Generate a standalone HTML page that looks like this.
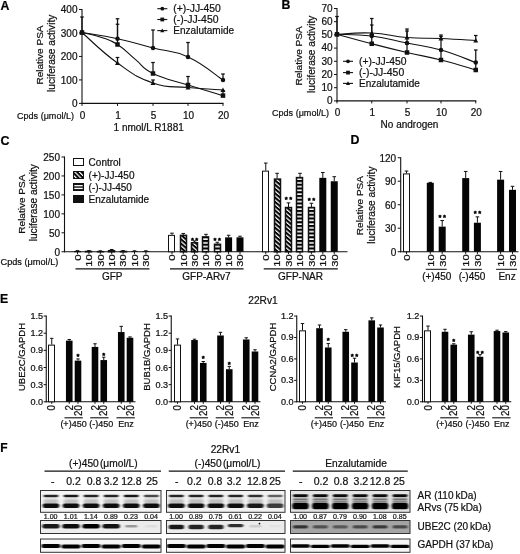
<!DOCTYPE html>
<html><head><meta charset="utf-8"><title>Figure</title>
<style>
html,body{margin:0;padding:0;background:#fff;}
svg{display:block;font-family:"Liberation Sans",sans-serif;}
text{stroke:#111;stroke-width:0.22px;}
</style></head>
<body>
<svg width="520" height="554" viewBox="0 0 520 554">
<defs>
<pattern id="hd" width="3.3" height="3.3" patternUnits="userSpaceOnUse" patternTransform="rotate(40)"><rect x="0" y="0" width="3.3" height="3.3" fill="#fff"/><rect x="0" y="0" width="3.3" height="2.05" fill="#000"/></pattern>
<pattern id="hh" width="3" height="3.75" patternUnits="userSpaceOnUse" patternTransform="translate(0 251.2)"><rect x="0" y="0" width="3" height="3.75" fill="#fff"/><rect x="0" y="0" width="3" height="2.15" fill="#000"/></pattern>
<pattern id="hd2" width="3.2" height="3.2" patternUnits="userSpaceOnUse" patternTransform="translate(73.9 0) rotate(45)"><rect x="0" y="0" width="3.2" height="3.2" fill="#fff"/><rect x="0" y="0" width="3.2" height="2.0" fill="#000"/></pattern>
<pattern id="hh2" width="3" height="2.6" patternUnits="userSpaceOnUse" patternTransform="translate(0 183.6)"><rect x="0" y="0" width="3" height="2.6" fill="#fff"/><rect x="0" y="0" width="3" height="1.3" fill="#111"/></pattern>
<filter id="b1" x="-20%" y="-60%" width="140%" height="220%"><feGaussianBlur stdDeviation="0.9 0.7"/></filter>
<filter id="b2" x="-20%" y="-80%" width="140%" height="260%"><feGaussianBlur stdDeviation="1.6 1.3"/></filter>
<clipPath id="cp0a"><rect x="40.5" y="490.5" width="120.5" height="21.8"/></clipPath>
<clipPath id="cp0b"><rect x="40.5" y="520.5" width="120.5" height="13"/></clipPath>
<clipPath id="cp0c"><rect x="40.5" y="539" width="120.5" height="13.3"/></clipPath>
<clipPath id="cp1a"><rect x="166.5" y="490.5" width="118.5" height="21.8"/></clipPath>
<clipPath id="cp1b"><rect x="166.5" y="520.5" width="118.5" height="13"/></clipPath>
<clipPath id="cp1c"><rect x="166.5" y="539" width="118.5" height="13.3"/></clipPath>
<clipPath id="cp2a"><rect x="290.5" y="490.5" width="119.5" height="21.8"/></clipPath>
<clipPath id="cp2b"><rect x="290.5" y="520.5" width="119.5" height="13"/></clipPath>
<clipPath id="cp2c"><rect x="290.5" y="539" width="119.5" height="13.3"/></clipPath>
</defs>
<rect x="0" y="0" width="520" height="554" fill="#fff"/>
<line x1="82" y1="9" x2="82" y2="103.9" stroke="#111" stroke-width="1.1"/>
<line x1="81.5" y1="103.4" x2="223.5" y2="103.4" stroke="#111" stroke-width="1.1"/>
<line x1="79" y1="9.48" x2="82" y2="9.48" stroke="#111" stroke-width="1"/>
<text x="77.5" y="13.28" font-size="10" text-anchor="end" fill="#111">400</text>
<line x1="79" y1="32.96" x2="82" y2="32.96" stroke="#111" stroke-width="1"/>
<text x="77.5" y="36.76" font-size="10" text-anchor="end" fill="#111">300</text>
<line x1="79" y1="56.44" x2="82" y2="56.44" stroke="#111" stroke-width="1"/>
<text x="77.5" y="60.24" font-size="10" text-anchor="end" fill="#111">200</text>
<line x1="79" y1="79.92" x2="82" y2="79.92" stroke="#111" stroke-width="1"/>
<text x="77.5" y="83.72" font-size="10" text-anchor="end" fill="#111">100</text>
<line x1="79" y1="103.4" x2="82" y2="103.4" stroke="#111" stroke-width="1"/>
<text x="77.5" y="107.2" font-size="10" text-anchor="end" fill="#111">0</text>
<line x1="82" y1="103.4" x2="82" y2="105.9" stroke="#111" stroke-width="1"/>
<text x="82.5" y="119" font-size="10" text-anchor="middle" fill="#111">0</text>
<line x1="117.5" y1="103.4" x2="117.5" y2="105.9" stroke="#111" stroke-width="1"/>
<text x="118" y="119" font-size="10" text-anchor="middle" fill="#111">1</text>
<line x1="153" y1="103.4" x2="153" y2="105.9" stroke="#111" stroke-width="1"/>
<text x="153.5" y="119" font-size="10" text-anchor="middle" fill="#111">5</text>
<line x1="188" y1="103.4" x2="188" y2="105.9" stroke="#111" stroke-width="1"/>
<text x="188.5" y="119" font-size="10" text-anchor="middle" fill="#111">10</text>
<line x1="223" y1="103.4" x2="223" y2="105.9" stroke="#111" stroke-width="1"/>
<text x="223.5" y="119" font-size="10" text-anchor="middle" fill="#111">20</text>
<text x="42.7" y="84.6" font-size="9.8" text-anchor="start" fill="#111" textLength="59.2" lengthAdjust="spacingAndGlyphs" transform="rotate(-90 42.7 84.6)">Relative PSA</text>
<text x="55.5" y="91.9" font-size="10.1" text-anchor="start" fill="#111" textLength="77.2" lengthAdjust="spacingAndGlyphs" transform="rotate(-90 55.5 91.9)">luciferase activity</text>
<text x="17" y="119" font-size="9.2" text-anchor="start" fill="#111" textLength="57" lengthAdjust="spacingAndGlyphs">Cpds (μmol/L)</text>
<text x="148.7" y="130.7" font-size="10" text-anchor="middle" fill="#111">1 nmol/L R1881</text>
<text x="0.6" y="9.5" font-size="12.3" text-anchor="start" fill="#000" font-weight="bold">A</text>
<path d="M82 32.5 C90.52 34 100.46 35.03 117.5 38.75 C134.54 42.47 136.08 43.62 153 48 C169.92 52.38 171.2 49.32 188 57 C204.8 64.68 214.6 74.48 223 80" fill="none" stroke="#111" stroke-width="1.1"/>
<line x1="82" y1="32.5" x2="82" y2="17" stroke="#111" stroke-width="1.25"/>
<line x1="80.2" y1="17" x2="83.8" y2="17" stroke="#111" stroke-width="1.25"/>
<line x1="117.5" y1="38.75" x2="117.5" y2="18.75" stroke="#111" stroke-width="1.25"/>
<line x1="115.7" y1="18.75" x2="119.3" y2="18.75" stroke="#111" stroke-width="1.25"/>
<line x1="153" y1="48" x2="153" y2="30" stroke="#111" stroke-width="1.25"/>
<line x1="151.2" y1="30" x2="154.8" y2="30" stroke="#111" stroke-width="1.25"/>
<line x1="188" y1="57" x2="188" y2="42.5" stroke="#111" stroke-width="1.25"/>
<line x1="186.2" y1="42.5" x2="189.8" y2="42.5" stroke="#111" stroke-width="1.25"/>
<line x1="223" y1="80" x2="223" y2="74" stroke="#111" stroke-width="1.25"/>
<line x1="221.2" y1="74" x2="224.8" y2="74" stroke="#111" stroke-width="1.25"/>
<circle cx="82" cy="32.5" r="2.25" fill="#111"/>
<circle cx="117.5" cy="38.75" r="2.25" fill="#111"/>
<circle cx="153" cy="48" r="2.25" fill="#111"/>
<circle cx="188" cy="57" r="2.25" fill="#111"/>
<circle cx="223" cy="80" r="2.25" fill="#111"/>
<path d="M82 32.5 C86.54 33.63 92.38 34.32 100.9 37.2 C109.42 40.08 109.17 39.12 117.5 44.5 C125.83 49.88 127.08 52.64 135.6 59.6 C144.12 66.56 140.42 67.4 153 73.5 C165.58 79.6 171.2 79.7 188 85 C204.8 90.3 214.6 93.06 223 95.6" fill="none" stroke="#111" stroke-width="1.1"/>
<line x1="117.5" y1="44.5" x2="117.5" y2="24.25" stroke="#111" stroke-width="1.25"/>
<line x1="115.7" y1="24.25" x2="119.3" y2="24.25" stroke="#111" stroke-width="1.25"/>
<line x1="153" y1="73.5" x2="153" y2="62.5" stroke="#111" stroke-width="1.25"/>
<line x1="151.2" y1="62.5" x2="154.8" y2="62.5" stroke="#111" stroke-width="1.25"/>
<line x1="188" y1="85" x2="188" y2="76.5" stroke="#111" stroke-width="1.25"/>
<line x1="186.2" y1="76.5" x2="189.8" y2="76.5" stroke="#111" stroke-width="1.25"/>
<line x1="223" y1="95.6" x2="223" y2="91" stroke="#111" stroke-width="1.25"/>
<line x1="221.2" y1="91" x2="224.8" y2="91" stroke="#111" stroke-width="1.25"/>
<rect x="79.75" y="30.25" width="4.5" height="4.5" fill="#111" stroke="none" stroke-width="1"/>
<rect x="115.25" y="42.25" width="4.5" height="4.5" fill="#111" stroke="none" stroke-width="1"/>
<rect x="150.75" y="71.25" width="4.5" height="4.5" fill="#111" stroke="none" stroke-width="1"/>
<rect x="185.75" y="82.75" width="4.5" height="4.5" fill="#111" stroke="none" stroke-width="1"/>
<rect x="220.75" y="93.35" width="4.5" height="4.5" fill="#111" stroke="none" stroke-width="1"/>
<path d="M82 32.5 C90.52 39.82 100.46 50.88 117.5 63 C134.54 75.12 136.08 77.12 153 83 C169.92 88.88 171.2 85.82 188 87.5 C204.8 89.18 214.6 89.4 223 90" fill="none" stroke="#111" stroke-width="1.1"/>
<line x1="117.5" y1="63" x2="117.5" y2="57.5" stroke="#111" stroke-width="1.25"/>
<line x1="115.7" y1="57.5" x2="119.3" y2="57.5" stroke="#111" stroke-width="1.25"/>
<line x1="153" y1="83" x2="153" y2="80" stroke="#111" stroke-width="1.25"/>
<line x1="151.2" y1="80" x2="154.8" y2="80" stroke="#111" stroke-width="1.25"/>
<line x1="188" y1="87.5" x2="188" y2="84.5" stroke="#111" stroke-width="1.25"/>
<line x1="186.2" y1="84.5" x2="189.8" y2="84.5" stroke="#111" stroke-width="1.25"/>
<path d="M82 29.91 L84.47 34.41 L79.53 34.41 Z" fill="#111"/>
<path d="M117.5 60.41 L119.97 64.91 L115.03 64.91 Z" fill="#111"/>
<path d="M153 80.41 L155.47 84.91 L150.53 84.91 Z" fill="#111"/>
<path d="M188 84.91 L190.47 89.41 L185.53 89.41 Z" fill="#111"/>
<path d="M223 87.41 L225.47 91.91 L220.53 91.91 Z" fill="#111"/>
<line x1="157.3" y1="8.7" x2="167.3" y2="8.7" stroke="#111" stroke-width="1.1"/>
<circle cx="162.3" cy="8.7" r="1.9" fill="#111"/>
<text x="173.3" y="12.3" font-size="10" text-anchor="start" fill="#111" textLength="47.6" lengthAdjust="spacingAndGlyphs">(+)-JJ-450</text>
<line x1="157.3" y1="19.5" x2="167.3" y2="19.5" stroke="#111" stroke-width="1.1"/>
<rect x="160.4" y="17.6" width="3.8" height="3.8" fill="#111" stroke="none" stroke-width="1"/>
<text x="173.3" y="23.1" font-size="10" text-anchor="start" fill="#111" textLength="45.2" lengthAdjust="spacingAndGlyphs">(-)-JJ-450</text>
<line x1="157.3" y1="30.6" x2="167.3" y2="30.6" stroke="#111" stroke-width="1.1"/>
<path d="M162.3 28.42 L164.39 32.22 L160.21 32.22 Z" fill="#111"/>
<text x="173.3" y="34.2" font-size="10" text-anchor="start" fill="#111" textLength="60.8" lengthAdjust="spacingAndGlyphs">Enzalutamide</text>
<line x1="337" y1="8" x2="337" y2="101.4" stroke="#111" stroke-width="1.1"/>
<line x1="336.5" y1="100.9" x2="476.25" y2="100.9" stroke="#111" stroke-width="1.1"/>
<line x1="334" y1="8.5" x2="337" y2="8.5" stroke="#111" stroke-width="1"/>
<text x="332.5" y="11.7" font-size="10" text-anchor="end" fill="#111">70</text>
<line x1="334" y1="21.7" x2="337" y2="21.7" stroke="#111" stroke-width="1"/>
<text x="332.5" y="24.9" font-size="10" text-anchor="end" fill="#111">60</text>
<line x1="334" y1="34.9" x2="337" y2="34.9" stroke="#111" stroke-width="1"/>
<text x="332.5" y="38.1" font-size="10" text-anchor="end" fill="#111">50</text>
<line x1="334" y1="48.1" x2="337" y2="48.1" stroke="#111" stroke-width="1"/>
<text x="332.5" y="51.3" font-size="10" text-anchor="end" fill="#111">40</text>
<line x1="334" y1="61.3" x2="337" y2="61.3" stroke="#111" stroke-width="1"/>
<text x="332.5" y="64.5" font-size="10" text-anchor="end" fill="#111">30</text>
<line x1="334" y1="74.5" x2="337" y2="74.5" stroke="#111" stroke-width="1"/>
<text x="332.5" y="77.7" font-size="10" text-anchor="end" fill="#111">20</text>
<line x1="334" y1="87.7" x2="337" y2="87.7" stroke="#111" stroke-width="1"/>
<text x="332.5" y="90.9" font-size="10" text-anchor="end" fill="#111">10</text>
<line x1="334" y1="100.9" x2="337" y2="100.9" stroke="#111" stroke-width="1"/>
<text x="332.5" y="104.1" font-size="10" text-anchor="end" fill="#111">0</text>
<line x1="337" y1="100.9" x2="337" y2="103.4" stroke="#111" stroke-width="1"/>
<text x="337.5" y="116" font-size="10" text-anchor="middle" fill="#111">0</text>
<line x1="371.75" y1="100.9" x2="371.75" y2="103.4" stroke="#111" stroke-width="1"/>
<text x="372.25" y="116" font-size="10" text-anchor="middle" fill="#111">1</text>
<line x1="407" y1="100.9" x2="407" y2="103.4" stroke="#111" stroke-width="1"/>
<text x="407.5" y="116" font-size="10" text-anchor="middle" fill="#111">5</text>
<line x1="441" y1="100.9" x2="441" y2="103.4" stroke="#111" stroke-width="1"/>
<text x="441.5" y="116" font-size="10" text-anchor="middle" fill="#111">10</text>
<line x1="475.75" y1="100.9" x2="475.75" y2="103.4" stroke="#111" stroke-width="1"/>
<text x="476.25" y="116" font-size="10" text-anchor="middle" fill="#111">20</text>
<text x="301.9" y="85.5" font-size="9.8" text-anchor="start" fill="#111" textLength="59.2" lengthAdjust="spacingAndGlyphs" transform="rotate(-90 301.9 85.5)">Relative PSA</text>
<text x="315.5" y="92.9" font-size="10.1" text-anchor="start" fill="#111" textLength="77.2" lengthAdjust="spacingAndGlyphs" transform="rotate(-90 315.5 92.9)">luciferase activity</text>
<text x="272" y="116" font-size="9.2" text-anchor="start" fill="#111" textLength="57" lengthAdjust="spacingAndGlyphs">Cpds (μmol/L)</text>
<text x="409.5" y="127.5" font-size="10" text-anchor="middle" fill="#111">No androgen</text>
<text x="281.6" y="8.9" font-size="12.3" text-anchor="start" fill="#000" font-weight="bold">B</text>
<path d="M337 34.3 C345.34 33.99 354.95 32.23 371.75 33 C388.55 33.77 390.38 36.18 407 37.5 C423.62 38.82 424.5 37.78 441 38.5 C457.5 39.22 467.41 40.02 475.75 40.5" fill="none" stroke="#111" stroke-width="1.1"/>
<line x1="337" y1="34.3" x2="337" y2="16.5" stroke="#111" stroke-width="1.25"/>
<line x1="335.2" y1="16.5" x2="338.8" y2="16.5" stroke="#111" stroke-width="1.25"/>
<line x1="371.75" y1="33" x2="371.75" y2="18.5" stroke="#111" stroke-width="1.25"/>
<line x1="369.95" y1="18.5" x2="373.55" y2="18.5" stroke="#111" stroke-width="1.25"/>
<line x1="407" y1="37.5" x2="407" y2="29" stroke="#111" stroke-width="1.25"/>
<line x1="405.2" y1="29" x2="408.8" y2="29" stroke="#111" stroke-width="1.25"/>
<line x1="441" y1="38.5" x2="441" y2="35" stroke="#111" stroke-width="1.25"/>
<line x1="439.2" y1="35" x2="442.8" y2="35" stroke="#111" stroke-width="1.25"/>
<line x1="475.75" y1="40.5" x2="475.75" y2="35.5" stroke="#111" stroke-width="1.25"/>
<line x1="473.95" y1="35.5" x2="477.55" y2="35.5" stroke="#111" stroke-width="1.25"/>
<path d="M337 31.71 L339.48 36.21 L334.52 36.21 Z" fill="#111"/>
<path d="M371.75 30.41 L374.23 34.91 L369.27 34.91 Z" fill="#111"/>
<path d="M407 34.91 L409.48 39.41 L404.52 39.41 Z" fill="#111"/>
<path d="M441 35.91 L443.48 40.41 L438.52 40.41 Z" fill="#111"/>
<path d="M475.75 37.91 L478.23 42.41 L473.27 42.41 Z" fill="#111"/>
<path d="M337 34.3 C345.34 34.71 354.95 33.91 371.75 36 C388.55 38.09 390.38 39.64 407 43 C423.62 46.36 424.5 45.32 441 50 C457.5 54.68 467.41 59.5 475.75 62.5" fill="none" stroke="#111" stroke-width="1.1"/>
<line x1="371.75" y1="36" x2="371.75" y2="25" stroke="#111" stroke-width="1.25"/>
<line x1="369.95" y1="25" x2="373.55" y2="25" stroke="#111" stroke-width="1.25"/>
<line x1="407" y1="43" x2="407" y2="31" stroke="#111" stroke-width="1.25"/>
<line x1="405.2" y1="31" x2="408.8" y2="31" stroke="#111" stroke-width="1.25"/>
<line x1="441" y1="50" x2="441" y2="36.5" stroke="#111" stroke-width="1.25"/>
<line x1="439.2" y1="36.5" x2="442.8" y2="36.5" stroke="#111" stroke-width="1.25"/>
<line x1="475.75" y1="62.5" x2="475.75" y2="50" stroke="#111" stroke-width="1.25"/>
<line x1="473.95" y1="50" x2="477.55" y2="50" stroke="#111" stroke-width="1.25"/>
<circle cx="337" cy="34.3" r="2.25" fill="#111"/>
<circle cx="371.75" cy="36" r="2.25" fill="#111"/>
<circle cx="407" cy="43" r="2.25" fill="#111"/>
<circle cx="441" cy="50" r="2.25" fill="#111"/>
<circle cx="475.75" cy="62.5" r="2.25" fill="#111"/>
<path d="M337 34.3 C345.34 36.57 354.95 39.38 371.75 43.75 C388.55 48.12 390.38 48.6 407 52.5 C423.62 56.4 424.5 55.8 441 60 C457.5 64.2 467.41 67.6 475.75 70" fill="none" stroke="#111" stroke-width="1.1"/>
<line x1="371.75" y1="43.75" x2="371.75" y2="36" stroke="#111" stroke-width="1.25"/>
<line x1="369.95" y1="36" x2="373.55" y2="36" stroke="#111" stroke-width="1.25"/>
<line x1="407" y1="52.5" x2="407" y2="44" stroke="#111" stroke-width="1.25"/>
<line x1="405.2" y1="44" x2="408.8" y2="44" stroke="#111" stroke-width="1.25"/>
<line x1="441" y1="60" x2="441" y2="50" stroke="#111" stroke-width="1.25"/>
<line x1="439.2" y1="50" x2="442.8" y2="50" stroke="#111" stroke-width="1.25"/>
<line x1="475.75" y1="70" x2="475.75" y2="62" stroke="#111" stroke-width="1.25"/>
<line x1="473.95" y1="62" x2="477.55" y2="62" stroke="#111" stroke-width="1.25"/>
<rect x="334.75" y="32.05" width="4.5" height="4.5" fill="#111" stroke="none" stroke-width="1"/>
<rect x="369.5" y="41.5" width="4.5" height="4.5" fill="#111" stroke="none" stroke-width="1"/>
<rect x="404.75" y="50.25" width="4.5" height="4.5" fill="#111" stroke="none" stroke-width="1"/>
<rect x="438.75" y="57.75" width="4.5" height="4.5" fill="#111" stroke="none" stroke-width="1"/>
<rect x="473.5" y="67.75" width="4.5" height="4.5" fill="#111" stroke="none" stroke-width="1"/>
<line x1="343" y1="61.3" x2="353" y2="61.3" stroke="#111" stroke-width="1.1"/>
<circle cx="348" cy="61.3" r="1.9" fill="#111"/>
<text x="359" y="64.9" font-size="10" text-anchor="start" fill="#111" textLength="47.6" lengthAdjust="spacingAndGlyphs">(+)-JJ-450</text>
<line x1="343" y1="72.6" x2="353" y2="72.6" stroke="#111" stroke-width="1.1"/>
<rect x="346.1" y="70.7" width="3.8" height="3.8" fill="#111" stroke="none" stroke-width="1"/>
<text x="359" y="76.2" font-size="10" text-anchor="start" fill="#111" textLength="45.2" lengthAdjust="spacingAndGlyphs">(-)-JJ-450</text>
<line x1="343" y1="83.4" x2="353" y2="83.4" stroke="#111" stroke-width="1.1"/>
<path d="M348 81.22 L350.09 85.02 L345.91 85.02 Z" fill="#111"/>
<text x="359" y="87" font-size="10" text-anchor="start" fill="#111" textLength="60.8" lengthAdjust="spacingAndGlyphs">Enzalutamide</text>
<text x="0.6" y="144.6" font-size="12.5" text-anchor="start" fill="#000" font-weight="bold">C</text>
<line x1="64.5" y1="156.5" x2="64.5" y2="252.25" stroke="#111" stroke-width="1.1"/>
<line x1="64" y1="251.75" x2="347.5" y2="251.75" stroke="#111" stroke-width="1.1"/>
<line x1="61.5" y1="251.75" x2="64.5" y2="251.75" stroke="#111" stroke-width="1"/>
<text x="60" y="255.55" font-size="10" text-anchor="end" fill="#111">0</text>
<line x1="61.5" y1="232.8" x2="64.5" y2="232.8" stroke="#111" stroke-width="1"/>
<text x="60" y="236.6" font-size="10" text-anchor="end" fill="#111">50</text>
<line x1="61.5" y1="213.85" x2="64.5" y2="213.85" stroke="#111" stroke-width="1"/>
<text x="60" y="217.65" font-size="10" text-anchor="end" fill="#111">100</text>
<line x1="61.5" y1="194.9" x2="64.5" y2="194.9" stroke="#111" stroke-width="1"/>
<text x="60" y="198.7" font-size="10" text-anchor="end" fill="#111">150</text>
<line x1="61.5" y1="175.95" x2="64.5" y2="175.95" stroke="#111" stroke-width="1"/>
<text x="60" y="179.75" font-size="10" text-anchor="end" fill="#111">200</text>
<line x1="61.5" y1="157" x2="64.5" y2="157" stroke="#111" stroke-width="1"/>
<text x="60" y="160.8" font-size="10" text-anchor="end" fill="#111">250</text>
<text x="24.7" y="233.7" font-size="9.8" text-anchor="start" fill="#111" textLength="59.2" lengthAdjust="spacingAndGlyphs" transform="rotate(-90 24.7 233.7)">Relative PSA</text>
<text x="37.5" y="241.3" font-size="10.1" text-anchor="start" fill="#111" textLength="77.2" lengthAdjust="spacingAndGlyphs" transform="rotate(-90 37.5 241.3)">luciferase activity</text>
<text x="0.5" y="264.5" font-size="9.2" text-anchor="start" fill="#111">Cpds (μmol/L)</text>
<rect x="73.5" y="158.5" width="10" height="7" fill="#fff" stroke="#111" stroke-width="1"/>
<text x="88.6" y="165.6" font-size="10" text-anchor="start" fill="#111">Control</text>
<rect x="73.5" y="171.5" width="10" height="7" fill="url(#hd2)" stroke="#111" stroke-width="1"/>
<text x="88.6" y="178.7" font-size="10" text-anchor="start" fill="#111">(+)-JJ-450</text>
<rect x="73.5" y="183.5" width="10" height="7" fill="#111" stroke="#111" stroke-width="1"/>
<line x1="74.3" y1="185.7" x2="82.7" y2="185.7" stroke="#fff" stroke-width="1.3"/>
<line x1="74.3" y1="188.4" x2="82.7" y2="188.4" stroke="#fff" stroke-width="1.3"/>
<text x="88.6" y="191" font-size="10" text-anchor="start" fill="#111">(-)-JJ-450</text>
<rect x="73.5" y="195.5" width="10" height="7" fill="#111" stroke="#111" stroke-width="1"/>
<text x="88.6" y="202.7" font-size="10" text-anchor="start" fill="#111">Enzalutamide</text>
<line x1="77.5" y1="250.99" x2="77.5" y2="250.61" stroke="#111" stroke-width="1"/>
<line x1="75.7" y1="250.61" x2="79.3" y2="250.61" stroke="#111" stroke-width="1"/>
<rect x="74.5" y="251.49" width="6" height="0.26" fill="#fff" stroke="#111" stroke-width="1"/>
<line x1="77.5" y1="251.75" x2="77.5" y2="253.95" stroke="#111" stroke-width="1"/>
<text x="80.9" y="260.7" font-size="9.6" text-anchor="start" fill="#111" textLength="6.4" lengthAdjust="spacingAndGlyphs" transform="rotate(-90 80.9 260.7)">0</text>
<line x1="88.9" y1="250.99" x2="88.9" y2="250.61" stroke="#111" stroke-width="1"/>
<line x1="87.1" y1="250.61" x2="90.7" y2="250.61" stroke="#111" stroke-width="1"/>
<rect x="85.5" y="251.49" width="6" height="0.26" fill="url(#hd)" stroke="#111" stroke-width="1.5"/>
<line x1="88.9" y1="251.75" x2="88.9" y2="253.95" stroke="#111" stroke-width="1"/>
<text x="92.3" y="266.7" font-size="9.6" text-anchor="start" fill="#111" textLength="12.4" lengthAdjust="spacingAndGlyphs" transform="rotate(-90 92.3 266.7)">10</text>
<line x1="100.3" y1="251.18" x2="100.3" y2="250.8" stroke="#111" stroke-width="1"/>
<line x1="98.5" y1="250.8" x2="102.1" y2="250.8" stroke="#111" stroke-width="1"/>
<rect x="97.5" y="251.68" width="6" height="0.07" fill="url(#hd)" stroke="#111" stroke-width="1.5"/>
<line x1="100.3" y1="251.75" x2="100.3" y2="253.95" stroke="#111" stroke-width="1"/>
<text x="103.7" y="266.7" font-size="9.6" text-anchor="start" fill="#111" textLength="12.4" lengthAdjust="spacingAndGlyphs" transform="rotate(-90 103.7 266.7)">30</text>
<line x1="111.7" y1="250.23" x2="111.7" y2="249.48" stroke="#111" stroke-width="1"/>
<line x1="109.9" y1="249.48" x2="113.5" y2="249.48" stroke="#111" stroke-width="1"/>
<rect x="108.5" y="250.73" width="6" height="1.02" fill="url(#hh)" stroke="#111" stroke-width="1.5"/>
<line x1="111.7" y1="251.75" x2="111.7" y2="253.95" stroke="#111" stroke-width="1"/>
<text x="115.1" y="266.7" font-size="9.6" text-anchor="start" fill="#111" textLength="12.4" lengthAdjust="spacingAndGlyphs" transform="rotate(-90 115.1 266.7)">10</text>
<line x1="123.1" y1="250.99" x2="123.1" y2="250.61" stroke="#111" stroke-width="1"/>
<line x1="121.3" y1="250.61" x2="124.9" y2="250.61" stroke="#111" stroke-width="1"/>
<rect x="120.5" y="251.49" width="6" height="0.26" fill="url(#hh)" stroke="#111" stroke-width="1.5"/>
<line x1="123.1" y1="251.75" x2="123.1" y2="253.95" stroke="#111" stroke-width="1"/>
<text x="126.5" y="266.7" font-size="9.6" text-anchor="start" fill="#111" textLength="12.4" lengthAdjust="spacingAndGlyphs" transform="rotate(-90 126.5 266.7)">30</text>
<line x1="134.5" y1="251.18" x2="134.5" y2="250.8" stroke="#111" stroke-width="1"/>
<line x1="132.7" y1="250.8" x2="136.3" y2="250.8" stroke="#111" stroke-width="1"/>
<rect x="131" y="251.18" width="7" height="0.57" fill="#050505" stroke="none" stroke-width="1"/>
<line x1="134.5" y1="251.75" x2="134.5" y2="253.95" stroke="#111" stroke-width="1"/>
<text x="137.9" y="266.7" font-size="9.6" text-anchor="start" fill="#111" textLength="12.4" lengthAdjust="spacingAndGlyphs" transform="rotate(-90 137.9 266.7)">10</text>
<line x1="145.9" y1="251.18" x2="145.9" y2="250.8" stroke="#111" stroke-width="1"/>
<line x1="144.1" y1="250.8" x2="147.7" y2="250.8" stroke="#111" stroke-width="1"/>
<rect x="142.4" y="251.18" width="7" height="0.57" fill="#050505" stroke="none" stroke-width="1"/>
<line x1="145.9" y1="251.75" x2="145.9" y2="253.95" stroke="#111" stroke-width="1"/>
<text x="149.3" y="266.7" font-size="9.6" text-anchor="start" fill="#111" textLength="12.4" lengthAdjust="spacingAndGlyphs" transform="rotate(-90 149.3 266.7)">30</text>
<line x1="75.5" y1="268.9" x2="149.5" y2="268.9" stroke="#111" stroke-width="1.1"/>
<text x="112.2" y="280.3" font-size="10" text-anchor="middle" fill="#111">GFP</text>
<line x1="172" y1="234.88" x2="172" y2="233.18" stroke="#111" stroke-width="1"/>
<line x1="170.2" y1="233.18" x2="173.8" y2="233.18" stroke="#111" stroke-width="1"/>
<rect x="168.5" y="235.38" width="6" height="16.37" fill="#fff" stroke="#111" stroke-width="1"/>
<line x1="172" y1="251.75" x2="172" y2="253.95" stroke="#111" stroke-width="1"/>
<text x="175.4" y="260.7" font-size="9.6" text-anchor="start" fill="#111" textLength="6.4" lengthAdjust="spacingAndGlyphs" transform="rotate(-90 175.4 260.7)">0</text>
<line x1="183.3" y1="234.88" x2="183.3" y2="233.44" stroke="#111" stroke-width="1"/>
<line x1="181.5" y1="233.44" x2="185.1" y2="233.44" stroke="#111" stroke-width="1"/>
<rect x="180.5" y="235.38" width="6" height="16.37" fill="url(#hd)" stroke="#111" stroke-width="1.5"/>
<line x1="183.3" y1="251.75" x2="183.3" y2="253.95" stroke="#111" stroke-width="1"/>
<text x="186.7" y="266.7" font-size="9.6" text-anchor="start" fill="#111" textLength="12.4" lengthAdjust="spacingAndGlyphs" transform="rotate(-90 186.7 266.7)">10</text>
<line x1="194.6" y1="242.28" x2="194.6" y2="240.95" stroke="#111" stroke-width="1"/>
<line x1="192.8" y1="240.95" x2="196.4" y2="240.95" stroke="#111" stroke-width="1"/>
<rect x="191.5" y="242.78" width="6" height="8.97" fill="url(#hd)" stroke="#111" stroke-width="1.5"/>
<line x1="194.6" y1="251.75" x2="194.6" y2="253.95" stroke="#111" stroke-width="1"/>
<text x="198" y="266.7" font-size="9.6" text-anchor="start" fill="#111" textLength="12.4" lengthAdjust="spacingAndGlyphs" transform="rotate(-90 198 266.7)">30</text>
<text x="195.35" y="242.65" font-size="7.6" text-anchor="middle" fill="#000" style="stroke:#000;stroke-width:0.55px" letter-spacing="1.5">**</text>
<line x1="206" y1="236.4" x2="206" y2="234.32" stroke="#111" stroke-width="1"/>
<line x1="204.2" y1="234.32" x2="207.8" y2="234.32" stroke="#111" stroke-width="1"/>
<rect x="202.5" y="236.9" width="6" height="14.85" fill="url(#hh)" stroke="#111" stroke-width="1.5"/>
<line x1="206" y1="251.75" x2="206" y2="253.95" stroke="#111" stroke-width="1"/>
<text x="209.4" y="266.7" font-size="9.6" text-anchor="start" fill="#111" textLength="12.4" lengthAdjust="spacingAndGlyphs" transform="rotate(-90 209.4 266.7)">10</text>
<line x1="217.3" y1="243.79" x2="217.3" y2="242.28" stroke="#111" stroke-width="1"/>
<line x1="215.5" y1="242.28" x2="219.1" y2="242.28" stroke="#111" stroke-width="1"/>
<rect x="214.5" y="244.29" width="6" height="7.46" fill="url(#hh)" stroke="#111" stroke-width="1.5"/>
<line x1="217.3" y1="251.75" x2="217.3" y2="253.95" stroke="#111" stroke-width="1"/>
<text x="220.7" y="266.7" font-size="9.6" text-anchor="start" fill="#111" textLength="12.4" lengthAdjust="spacingAndGlyphs" transform="rotate(-90 220.7 266.7)">30</text>
<text x="218.05" y="242.65" font-size="7.6" text-anchor="middle" fill="#000" style="stroke:#000;stroke-width:0.55px" letter-spacing="1.5">**</text>
<line x1="228.6" y1="237.35" x2="228.6" y2="235.26" stroke="#111" stroke-width="1"/>
<line x1="226.8" y1="235.26" x2="230.4" y2="235.26" stroke="#111" stroke-width="1"/>
<rect x="225.1" y="237.35" width="7" height="14.4" fill="#050505" stroke="none" stroke-width="1"/>
<line x1="228.6" y1="251.75" x2="228.6" y2="253.95" stroke="#111" stroke-width="1"/>
<text x="232" y="266.7" font-size="9.6" text-anchor="start" fill="#111" textLength="12.4" lengthAdjust="spacingAndGlyphs" transform="rotate(-90 232 266.7)">10</text>
<line x1="240" y1="237.35" x2="240" y2="236.21" stroke="#111" stroke-width="1"/>
<line x1="238.2" y1="236.21" x2="241.8" y2="236.21" stroke="#111" stroke-width="1"/>
<rect x="236.5" y="237.35" width="7" height="14.4" fill="#050505" stroke="none" stroke-width="1"/>
<line x1="240" y1="251.75" x2="240" y2="253.95" stroke="#111" stroke-width="1"/>
<text x="243.4" y="266.7" font-size="9.6" text-anchor="start" fill="#111" textLength="12.4" lengthAdjust="spacingAndGlyphs" transform="rotate(-90 243.4 266.7)">30</text>
<line x1="170" y1="268.9" x2="243.6" y2="268.9" stroke="#111" stroke-width="1.1"/>
<text x="206.5" y="280.3" font-size="10" text-anchor="middle" fill="#111">GFP-ARv7</text>
<line x1="265.75" y1="170.64" x2="265.75" y2="163.06" stroke="#111" stroke-width="1"/>
<line x1="263.95" y1="163.06" x2="267.55" y2="163.06" stroke="#111" stroke-width="1"/>
<rect x="262.5" y="171.14" width="6" height="80.61" fill="#fff" stroke="#111" stroke-width="1"/>
<line x1="265.75" y1="251.75" x2="265.75" y2="253.95" stroke="#111" stroke-width="1"/>
<text x="269.15" y="260.7" font-size="9.6" text-anchor="start" fill="#111" textLength="6.4" lengthAdjust="spacingAndGlyphs" transform="rotate(-90 269.15 260.7)">0</text>
<line x1="277.1" y1="178.6" x2="277.1" y2="173.3" stroke="#111" stroke-width="1"/>
<line x1="275.3" y1="173.3" x2="278.9" y2="173.3" stroke="#111" stroke-width="1"/>
<rect x="274.5" y="179.1" width="6" height="72.65" fill="url(#hd)" stroke="#111" stroke-width="1.5"/>
<line x1="277.1" y1="251.75" x2="277.1" y2="253.95" stroke="#111" stroke-width="1"/>
<text x="280.5" y="266.7" font-size="9.6" text-anchor="start" fill="#111" textLength="12.4" lengthAdjust="spacingAndGlyphs" transform="rotate(-90 280.5 266.7)">10</text>
<line x1="288.5" y1="207.03" x2="288.5" y2="202.86" stroke="#111" stroke-width="1"/>
<line x1="286.7" y1="202.86" x2="290.3" y2="202.86" stroke="#111" stroke-width="1"/>
<rect x="285.5" y="207.53" width="6" height="44.22" fill="url(#hd)" stroke="#111" stroke-width="1.5"/>
<line x1="288.5" y1="251.75" x2="288.5" y2="253.95" stroke="#111" stroke-width="1"/>
<text x="291.9" y="266.7" font-size="9.6" text-anchor="start" fill="#111" textLength="12.4" lengthAdjust="spacingAndGlyphs" transform="rotate(-90 291.9 266.7)">30</text>
<text x="289.25" y="201.85" font-size="7.6" text-anchor="middle" fill="#000" style="stroke:#000;stroke-width:0.55px" letter-spacing="1.5">**</text>
<line x1="300" y1="177.09" x2="300" y2="173.3" stroke="#111" stroke-width="1"/>
<line x1="298.2" y1="173.3" x2="301.8" y2="173.3" stroke="#111" stroke-width="1"/>
<rect x="296.5" y="177.59" width="6" height="74.16" fill="url(#hh)" stroke="#111" stroke-width="1.5"/>
<line x1="300" y1="251.75" x2="300" y2="253.95" stroke="#111" stroke-width="1"/>
<text x="303.4" y="266.7" font-size="9.6" text-anchor="start" fill="#111" textLength="12.4" lengthAdjust="spacingAndGlyphs" transform="rotate(-90 303.4 266.7)">10</text>
<line x1="311.4" y1="207.03" x2="311.4" y2="203.24" stroke="#111" stroke-width="1"/>
<line x1="309.6" y1="203.24" x2="313.2" y2="203.24" stroke="#111" stroke-width="1"/>
<rect x="308.5" y="207.53" width="6" height="44.22" fill="url(#hh)" stroke="#111" stroke-width="1.5"/>
<line x1="311.4" y1="251.75" x2="311.4" y2="253.95" stroke="#111" stroke-width="1"/>
<text x="314.8" y="266.7" font-size="9.6" text-anchor="start" fill="#111" textLength="12.4" lengthAdjust="spacingAndGlyphs" transform="rotate(-90 314.8 266.7)">30</text>
<text x="312.15" y="202.75" font-size="7.6" text-anchor="middle" fill="#000" style="stroke:#000;stroke-width:0.55px" letter-spacing="1.5">**</text>
<line x1="322.8" y1="177.84" x2="322.8" y2="172.54" stroke="#111" stroke-width="1"/>
<line x1="321" y1="172.54" x2="324.6" y2="172.54" stroke="#111" stroke-width="1"/>
<rect x="319.3" y="177.84" width="7" height="73.91" fill="#050505" stroke="none" stroke-width="1"/>
<line x1="322.8" y1="251.75" x2="322.8" y2="253.95" stroke="#111" stroke-width="1"/>
<text x="326.2" y="266.7" font-size="9.6" text-anchor="start" fill="#111" textLength="12.4" lengthAdjust="spacingAndGlyphs" transform="rotate(-90 326.2 266.7)">10</text>
<line x1="334.25" y1="181.26" x2="334.25" y2="176.71" stroke="#111" stroke-width="1"/>
<line x1="332.45" y1="176.71" x2="336.05" y2="176.71" stroke="#111" stroke-width="1"/>
<rect x="330.75" y="181.26" width="7" height="70.49" fill="#050505" stroke="none" stroke-width="1"/>
<line x1="334.25" y1="251.75" x2="334.25" y2="253.95" stroke="#111" stroke-width="1"/>
<text x="337.65" y="266.7" font-size="9.6" text-anchor="start" fill="#111" textLength="12.4" lengthAdjust="spacingAndGlyphs" transform="rotate(-90 337.65 266.7)">30</text>
<line x1="263.75" y1="268.9" x2="337.85" y2="268.9" stroke="#111" stroke-width="1.1"/>
<text x="300.5" y="280.3" font-size="10" text-anchor="middle" fill="#111">GFP-NAR</text>
<text x="350.6" y="144.3" font-size="12.4" text-anchor="start" fill="#000" font-weight="bold">D</text>
<line x1="400.7" y1="157.24" x2="400.7" y2="252.2" stroke="#111" stroke-width="1.1"/>
<line x1="400.2" y1="251.7" x2="518.5" y2="251.7" stroke="#111" stroke-width="1.1"/>
<line x1="397.7" y1="251.7" x2="400.7" y2="251.7" stroke="#111" stroke-width="1"/>
<text x="396.2" y="255.7" font-size="10" text-anchor="end" fill="#111">0</text>
<line x1="397.7" y1="228.21" x2="400.7" y2="228.21" stroke="#111" stroke-width="1"/>
<text x="396.2" y="232.21" font-size="10" text-anchor="end" fill="#111">30</text>
<line x1="397.7" y1="204.72" x2="400.7" y2="204.72" stroke="#111" stroke-width="1"/>
<text x="396.2" y="208.72" font-size="10" text-anchor="end" fill="#111">60</text>
<line x1="397.7" y1="181.23" x2="400.7" y2="181.23" stroke="#111" stroke-width="1"/>
<text x="396.2" y="185.23" font-size="10" text-anchor="end" fill="#111">90</text>
<line x1="397.7" y1="157.74" x2="400.7" y2="157.74" stroke="#111" stroke-width="1"/>
<text x="396.2" y="161.74" font-size="10" text-anchor="end" fill="#111">120</text>
<text x="362.6" y="235.2" font-size="9.8" text-anchor="start" fill="#111" textLength="59.2" lengthAdjust="spacingAndGlyphs" transform="rotate(-90 362.6 235.2)">Relative PSA</text>
<text x="375" y="243.7" font-size="10.1" text-anchor="start" fill="#111" textLength="77.2" lengthAdjust="spacingAndGlyphs" transform="rotate(-90 375 243.7)">luciferase activity</text>
<line x1="406.5" y1="173.4" x2="406.5" y2="171.05" stroke="#111" stroke-width="1"/>
<line x1="404.7" y1="171.05" x2="408.3" y2="171.05" stroke="#111" stroke-width="1"/>
<rect x="403.5" y="173.9" width="6" height="77.8" fill="#fff" stroke="#111" stroke-width="1"/>
<line x1="406.5" y1="251.7" x2="406.5" y2="253.9" stroke="#111" stroke-width="1"/>
<text x="409.9" y="260.7" font-size="9.6" text-anchor="start" fill="#111" textLength="6.4" lengthAdjust="spacingAndGlyphs" transform="rotate(-90 409.9 260.7)">0</text>
<line x1="430.3" y1="182.8" x2="430.3" y2="182.4" stroke="#111" stroke-width="1"/>
<line x1="428.5" y1="182.4" x2="432.1" y2="182.4" stroke="#111" stroke-width="1"/>
<rect x="426.8" y="182.8" width="7" height="68.9" fill="#050505" stroke="none" stroke-width="1"/>
<line x1="430.3" y1="251.7" x2="430.3" y2="253.9" stroke="#111" stroke-width="1"/>
<text x="433.7" y="266.7" font-size="9.6" text-anchor="start" fill="#111" textLength="12.4" lengthAdjust="spacingAndGlyphs" transform="rotate(-90 433.7 266.7)">10</text>
<line x1="442.2" y1="226.64" x2="442.2" y2="220.54" stroke="#111" stroke-width="1"/>
<line x1="440.4" y1="220.54" x2="444" y2="220.54" stroke="#111" stroke-width="1"/>
<rect x="438.7" y="226.64" width="7" height="25.06" fill="#050505" stroke="none" stroke-width="1"/>
<line x1="442.2" y1="251.7" x2="442.2" y2="253.9" stroke="#111" stroke-width="1"/>
<text x="445.6" y="266.7" font-size="9.6" text-anchor="start" fill="#111" textLength="12.4" lengthAdjust="spacingAndGlyphs" transform="rotate(-90 445.6 266.7)">30</text>
<text x="442.95" y="219.55" font-size="7.6" text-anchor="middle" fill="#000" style="stroke:#000;stroke-width:0.55px" letter-spacing="1.5">**</text>
<line x1="465.7" y1="178.1" x2="465.7" y2="171.44" stroke="#111" stroke-width="1"/>
<line x1="463.9" y1="171.44" x2="467.5" y2="171.44" stroke="#111" stroke-width="1"/>
<rect x="462.2" y="178.1" width="7" height="73.6" fill="#050505" stroke="none" stroke-width="1"/>
<line x1="465.7" y1="251.7" x2="465.7" y2="253.9" stroke="#111" stroke-width="1"/>
<text x="469.1" y="266.7" font-size="9.6" text-anchor="start" fill="#111" textLength="12.4" lengthAdjust="spacingAndGlyphs" transform="rotate(-90 469.1 266.7)">10</text>
<line x1="477.4" y1="222.73" x2="477.4" y2="216.86" stroke="#111" stroke-width="1"/>
<line x1="475.6" y1="216.86" x2="479.2" y2="216.86" stroke="#111" stroke-width="1"/>
<rect x="473.9" y="222.73" width="7" height="28.97" fill="#050505" stroke="none" stroke-width="1"/>
<line x1="477.4" y1="251.7" x2="477.4" y2="253.9" stroke="#111" stroke-width="1"/>
<text x="480.8" y="266.7" font-size="9.6" text-anchor="start" fill="#111" textLength="12.4" lengthAdjust="spacingAndGlyphs" transform="rotate(-90 480.8 266.7)">30</text>
<text x="478.15" y="216.05" font-size="7.6" text-anchor="middle" fill="#000" style="stroke:#000;stroke-width:0.55px" letter-spacing="1.5">**</text>
<line x1="500.6" y1="179.66" x2="500.6" y2="171.44" stroke="#111" stroke-width="1"/>
<line x1="498.8" y1="171.44" x2="502.4" y2="171.44" stroke="#111" stroke-width="1"/>
<rect x="497.1" y="179.66" width="7" height="72.04" fill="#050505" stroke="none" stroke-width="1"/>
<line x1="500.6" y1="251.7" x2="500.6" y2="253.9" stroke="#111" stroke-width="1"/>
<text x="504" y="266.7" font-size="9.6" text-anchor="start" fill="#111" textLength="12.4" lengthAdjust="spacingAndGlyphs" transform="rotate(-90 504 266.7)">10</text>
<line x1="512.5" y1="189.84" x2="512.5" y2="186.32" stroke="#111" stroke-width="1"/>
<line x1="510.7" y1="186.32" x2="514.3" y2="186.32" stroke="#111" stroke-width="1"/>
<rect x="509" y="189.84" width="7" height="61.86" fill="#050505" stroke="none" stroke-width="1"/>
<line x1="512.5" y1="251.7" x2="512.5" y2="253.9" stroke="#111" stroke-width="1"/>
<text x="515.9" y="266.7" font-size="9.6" text-anchor="start" fill="#111" textLength="12.4" lengthAdjust="spacingAndGlyphs" transform="rotate(-90 515.9 266.7)">30</text>
<line x1="425.8" y1="269.3" x2="446.7" y2="269.3" stroke="#111" stroke-width="1"/>
<text x="436.75" y="279.8" font-size="10" text-anchor="middle" fill="#111">(+)450</text>
<line x1="461.2" y1="269.3" x2="481.9" y2="269.3" stroke="#111" stroke-width="1"/>
<text x="472.05" y="279.8" font-size="10" text-anchor="middle" fill="#111">(-)450</text>
<line x1="496.1" y1="269.3" x2="517" y2="269.3" stroke="#111" stroke-width="1"/>
<text x="507.05" y="279.8" font-size="10" text-anchor="middle" fill="#111">Enz</text>
<text x="0.1" y="302.9" font-size="12.3" text-anchor="start" fill="#000" font-weight="bold">E</text>
<text x="263" y="304.3" font-size="10.2" text-anchor="middle" fill="#111">22Rv1</text>
<line x1="46.25" y1="315.55" x2="46.25" y2="402.3" stroke="#111" stroke-width="1.1"/>
<line x1="45.75" y1="401.8" x2="135.5" y2="401.8" stroke="#111" stroke-width="1.1"/>
<line x1="43.65" y1="401.8" x2="46.25" y2="401.8" stroke="#111" stroke-width="1"/>
<text x="43.05" y="404.8" font-size="9.1" text-anchor="end" fill="#111">0.0</text>
<line x1="43.65" y1="384.65" x2="46.25" y2="384.65" stroke="#111" stroke-width="1"/>
<text x="43.05" y="387.65" font-size="9.1" text-anchor="end" fill="#111">0.3</text>
<line x1="43.65" y1="367.5" x2="46.25" y2="367.5" stroke="#111" stroke-width="1"/>
<text x="43.05" y="370.5" font-size="9.1" text-anchor="end" fill="#111">0.6</text>
<line x1="43.65" y1="350.35" x2="46.25" y2="350.35" stroke="#111" stroke-width="1"/>
<text x="43.05" y="353.35" font-size="9.1" text-anchor="end" fill="#111">0.9</text>
<line x1="43.65" y1="333.2" x2="46.25" y2="333.2" stroke="#111" stroke-width="1"/>
<text x="43.05" y="336.2" font-size="9.1" text-anchor="end" fill="#111">1.2</text>
<line x1="43.65" y1="316.05" x2="46.25" y2="316.05" stroke="#111" stroke-width="1"/>
<text x="43.05" y="319.05" font-size="9.1" text-anchor="end" fill="#111">1.5</text>
<text x="25.2" y="357" font-size="9.5" text-anchor="middle" fill="#111" transform="rotate(-90 25.2 357)">UBE2C/GAPDH</text>
<line x1="51.75" y1="344.63" x2="51.75" y2="338.34" stroke="#111" stroke-width="1"/>
<line x1="50.05" y1="338.34" x2="53.45" y2="338.34" stroke="#111" stroke-width="1"/>
<rect x="48.5" y="345.13" width="6" height="56.67" fill="#fff" stroke="#111" stroke-width="1"/>
<line x1="51.75" y1="401.8" x2="51.75" y2="403.8" stroke="#111" stroke-width="1"/>
<text x="55.35" y="410.6" font-size="10" text-anchor="start" fill="#111" textLength="5.4" lengthAdjust="spacingAndGlyphs" transform="rotate(-90 55.35 410.6)">0</text>
<line x1="69.25" y1="340.63" x2="69.25" y2="339.48" stroke="#111" stroke-width="1"/>
<line x1="67.55" y1="339.48" x2="70.95" y2="339.48" stroke="#111" stroke-width="1"/>
<rect x="65.95" y="340.63" width="6.6" height="61.17" fill="#050505" stroke="none" stroke-width="1"/>
<line x1="69.25" y1="401.8" x2="69.25" y2="403.8" stroke="#111" stroke-width="1"/>
<text x="72.85" y="410.6" font-size="10" text-anchor="start" fill="#111" textLength="5.4" lengthAdjust="spacingAndGlyphs" transform="rotate(-90 72.85 410.6)">2</text>
<line x1="78" y1="360.64" x2="78" y2="358.92" stroke="#111" stroke-width="1"/>
<line x1="76.3" y1="358.92" x2="79.7" y2="358.92" stroke="#111" stroke-width="1"/>
<rect x="74.7" y="360.64" width="6.6" height="41.16" fill="#050505" stroke="none" stroke-width="1"/>
<line x1="78" y1="401.8" x2="78" y2="403.8" stroke="#111" stroke-width="1"/>
<text x="81.6" y="416" font-size="10" text-anchor="start" fill="#111" textLength="10.8" lengthAdjust="spacingAndGlyphs" transform="rotate(-90 81.6 416)">20</text>
<text x="78" y="359.15" font-size="7.6" text-anchor="middle" fill="#000" style="stroke:#000;stroke-width:0.55px">*</text>
<line x1="95" y1="346.92" x2="95" y2="343.77" stroke="#111" stroke-width="1"/>
<line x1="93.3" y1="343.77" x2="96.7" y2="343.77" stroke="#111" stroke-width="1"/>
<rect x="91.7" y="346.92" width="6.6" height="54.88" fill="#050505" stroke="none" stroke-width="1"/>
<line x1="95" y1="401.8" x2="95" y2="403.8" stroke="#111" stroke-width="1"/>
<text x="98.6" y="410.6" font-size="10" text-anchor="start" fill="#111" textLength="5.4" lengthAdjust="spacingAndGlyphs" transform="rotate(-90 98.6 410.6)">2</text>
<line x1="103.75" y1="360.07" x2="103.75" y2="357.21" stroke="#111" stroke-width="1"/>
<line x1="102.05" y1="357.21" x2="105.45" y2="357.21" stroke="#111" stroke-width="1"/>
<rect x="100.45" y="360.07" width="6.6" height="41.73" fill="#050505" stroke="none" stroke-width="1"/>
<line x1="103.75" y1="401.8" x2="103.75" y2="403.8" stroke="#111" stroke-width="1"/>
<text x="107.35" y="416" font-size="10" text-anchor="start" fill="#111" textLength="10.8" lengthAdjust="spacingAndGlyphs" transform="rotate(-90 107.35 416)">20</text>
<text x="103.75" y="358.15" font-size="7.6" text-anchor="middle" fill="#000" style="stroke:#000;stroke-width:0.55px">*</text>
<line x1="121.25" y1="332.05" x2="121.25" y2="326.34" stroke="#111" stroke-width="1"/>
<line x1="119.55" y1="326.34" x2="122.95" y2="326.34" stroke="#111" stroke-width="1"/>
<rect x="117.95" y="332.05" width="6.6" height="69.75" fill="#050505" stroke="none" stroke-width="1"/>
<line x1="121.25" y1="401.8" x2="121.25" y2="403.8" stroke="#111" stroke-width="1"/>
<text x="124.85" y="410.6" font-size="10" text-anchor="start" fill="#111" textLength="5.4" lengthAdjust="spacingAndGlyphs" transform="rotate(-90 124.85 410.6)">2</text>
<line x1="130" y1="337.77" x2="130" y2="336.91" stroke="#111" stroke-width="1"/>
<line x1="128.3" y1="336.91" x2="131.7" y2="336.91" stroke="#111" stroke-width="1"/>
<rect x="126.7" y="337.77" width="6.6" height="64.03" fill="#050505" stroke="none" stroke-width="1"/>
<line x1="130" y1="401.8" x2="130" y2="403.8" stroke="#111" stroke-width="1"/>
<text x="133.6" y="416" font-size="10" text-anchor="start" fill="#111" textLength="10.8" lengthAdjust="spacingAndGlyphs" transform="rotate(-90 133.6 416)">20</text>
<line x1="64.45" y1="417.8" x2="82.8" y2="417.8" stroke="#111" stroke-width="1.1"/>
<text x="73.53" y="426.6" font-size="9" text-anchor="middle" fill="#111">(+)450</text>
<line x1="90.2" y1="417.8" x2="108.55" y2="417.8" stroke="#111" stroke-width="1.1"/>
<text x="101.28" y="426.6" font-size="9" text-anchor="middle" fill="#111">(-)450</text>
<line x1="116.45" y1="417.8" x2="134.8" y2="417.8" stroke="#111" stroke-width="1.1"/>
<text x="126.03" y="426.6" font-size="9" text-anchor="middle" fill="#111">Enz</text>
<line x1="171.25" y1="315.55" x2="171.25" y2="402.3" stroke="#111" stroke-width="1.1"/>
<line x1="170.75" y1="401.8" x2="260.5" y2="401.8" stroke="#111" stroke-width="1.1"/>
<line x1="168.65" y1="401.8" x2="171.25" y2="401.8" stroke="#111" stroke-width="1"/>
<text x="168.05" y="404.8" font-size="9.1" text-anchor="end" fill="#111">0.0</text>
<line x1="168.65" y1="384.65" x2="171.25" y2="384.65" stroke="#111" stroke-width="1"/>
<text x="168.05" y="387.65" font-size="9.1" text-anchor="end" fill="#111">0.3</text>
<line x1="168.65" y1="367.5" x2="171.25" y2="367.5" stroke="#111" stroke-width="1"/>
<text x="168.05" y="370.5" font-size="9.1" text-anchor="end" fill="#111">0.6</text>
<line x1="168.65" y1="350.35" x2="171.25" y2="350.35" stroke="#111" stroke-width="1"/>
<text x="168.05" y="353.35" font-size="9.1" text-anchor="end" fill="#111">0.9</text>
<line x1="168.65" y1="333.2" x2="171.25" y2="333.2" stroke="#111" stroke-width="1"/>
<text x="168.05" y="336.2" font-size="9.1" text-anchor="end" fill="#111">1.2</text>
<line x1="168.65" y1="316.05" x2="171.25" y2="316.05" stroke="#111" stroke-width="1"/>
<text x="168.05" y="319.05" font-size="9.1" text-anchor="end" fill="#111">1.5</text>
<text x="150" y="357" font-size="9.5" text-anchor="middle" fill="#111" transform="rotate(-90 150 357)">BUB1B/GAPDH</text>
<line x1="177.5" y1="344.63" x2="177.5" y2="338.91" stroke="#111" stroke-width="1"/>
<line x1="175.8" y1="338.91" x2="179.2" y2="338.91" stroke="#111" stroke-width="1"/>
<rect x="174.5" y="345.13" width="6" height="56.67" fill="#fff" stroke="#111" stroke-width="1"/>
<line x1="177.5" y1="401.8" x2="177.5" y2="403.8" stroke="#111" stroke-width="1"/>
<text x="181.1" y="410.6" font-size="10" text-anchor="start" fill="#111" textLength="5.4" lengthAdjust="spacingAndGlyphs" transform="rotate(-90 181.1 410.6)">0</text>
<line x1="194.5" y1="340.06" x2="194.5" y2="339.2" stroke="#111" stroke-width="1"/>
<line x1="192.8" y1="339.2" x2="196.2" y2="339.2" stroke="#111" stroke-width="1"/>
<rect x="191.2" y="340.06" width="6.6" height="61.74" fill="#050505" stroke="none" stroke-width="1"/>
<line x1="194.5" y1="401.8" x2="194.5" y2="403.8" stroke="#111" stroke-width="1"/>
<text x="198.1" y="410.6" font-size="10" text-anchor="start" fill="#111" textLength="5.4" lengthAdjust="spacingAndGlyphs" transform="rotate(-90 198.1 410.6)">2</text>
<line x1="203.25" y1="362.92" x2="203.25" y2="361.5" stroke="#111" stroke-width="1"/>
<line x1="201.55" y1="361.5" x2="204.95" y2="361.5" stroke="#111" stroke-width="1"/>
<rect x="199.95" y="362.92" width="6.6" height="38.88" fill="#050505" stroke="none" stroke-width="1"/>
<line x1="203.25" y1="401.8" x2="203.25" y2="403.8" stroke="#111" stroke-width="1"/>
<text x="206.85" y="416" font-size="10" text-anchor="start" fill="#111" textLength="10.8" lengthAdjust="spacingAndGlyphs" transform="rotate(-90 206.85 416)">20</text>
<text x="203.25" y="360.65" font-size="7.6" text-anchor="middle" fill="#000" style="stroke:#000;stroke-width:0.55px">*</text>
<line x1="220.5" y1="335.48" x2="220.5" y2="332.34" stroke="#111" stroke-width="1"/>
<line x1="218.8" y1="332.34" x2="222.2" y2="332.34" stroke="#111" stroke-width="1"/>
<rect x="217.2" y="335.48" width="6.6" height="66.32" fill="#050505" stroke="none" stroke-width="1"/>
<line x1="220.5" y1="401.8" x2="220.5" y2="403.8" stroke="#111" stroke-width="1"/>
<text x="224.1" y="410.6" font-size="10" text-anchor="start" fill="#111" textLength="5.4" lengthAdjust="spacingAndGlyphs" transform="rotate(-90 224.1 410.6)">2</text>
<line x1="229.25" y1="369.21" x2="229.25" y2="366.35" stroke="#111" stroke-width="1"/>
<line x1="227.55" y1="366.35" x2="230.95" y2="366.35" stroke="#111" stroke-width="1"/>
<rect x="225.95" y="369.21" width="6.6" height="32.59" fill="#050505" stroke="none" stroke-width="1"/>
<line x1="229.25" y1="401.8" x2="229.25" y2="403.8" stroke="#111" stroke-width="1"/>
<text x="232.85" y="416" font-size="10" text-anchor="start" fill="#111" textLength="10.8" lengthAdjust="spacingAndGlyphs" transform="rotate(-90 232.85 416)">20</text>
<text x="229.25" y="366.65" font-size="7.6" text-anchor="middle" fill="#000" style="stroke:#000;stroke-width:0.55px">*</text>
<line x1="246.25" y1="339.48" x2="246.25" y2="337.77" stroke="#111" stroke-width="1"/>
<line x1="244.55" y1="337.77" x2="247.95" y2="337.77" stroke="#111" stroke-width="1"/>
<rect x="242.95" y="339.48" width="6.6" height="62.32" fill="#050505" stroke="none" stroke-width="1"/>
<line x1="246.25" y1="401.8" x2="246.25" y2="403.8" stroke="#111" stroke-width="1"/>
<text x="249.85" y="410.6" font-size="10" text-anchor="start" fill="#111" textLength="5.4" lengthAdjust="spacingAndGlyphs" transform="rotate(-90 249.85 410.6)">2</text>
<line x1="255" y1="351.49" x2="255" y2="349.78" stroke="#111" stroke-width="1"/>
<line x1="253.3" y1="349.78" x2="256.7" y2="349.78" stroke="#111" stroke-width="1"/>
<rect x="251.7" y="351.49" width="6.6" height="50.31" fill="#050505" stroke="none" stroke-width="1"/>
<line x1="255" y1="401.8" x2="255" y2="403.8" stroke="#111" stroke-width="1"/>
<text x="258.6" y="416" font-size="10" text-anchor="start" fill="#111" textLength="10.8" lengthAdjust="spacingAndGlyphs" transform="rotate(-90 258.6 416)">20</text>
<line x1="189.7" y1="417.8" x2="208.05" y2="417.8" stroke="#111" stroke-width="1.1"/>
<text x="198.77" y="426.6" font-size="9" text-anchor="middle" fill="#111">(+)450</text>
<line x1="215.7" y1="417.8" x2="234.05" y2="417.8" stroke="#111" stroke-width="1.1"/>
<text x="226.77" y="426.6" font-size="9" text-anchor="middle" fill="#111">(-)450</text>
<line x1="241.45" y1="417.8" x2="259.8" y2="417.8" stroke="#111" stroke-width="1.1"/>
<text x="251.02" y="426.6" font-size="9" text-anchor="middle" fill="#111">Enz</text>
<line x1="296.75" y1="315.55" x2="296.75" y2="402.3" stroke="#111" stroke-width="1.1"/>
<line x1="296.25" y1="401.8" x2="386" y2="401.8" stroke="#111" stroke-width="1.1"/>
<line x1="294.15" y1="401.8" x2="296.75" y2="401.8" stroke="#111" stroke-width="1"/>
<text x="293.55" y="404.8" font-size="9.1" text-anchor="end" fill="#111">0.0</text>
<line x1="294.15" y1="380.36" x2="296.75" y2="380.36" stroke="#111" stroke-width="1"/>
<text x="293.55" y="383.36" font-size="9.1" text-anchor="end" fill="#111">0.3</text>
<line x1="294.15" y1="358.92" x2="296.75" y2="358.92" stroke="#111" stroke-width="1"/>
<text x="293.55" y="361.92" font-size="9.1" text-anchor="end" fill="#111">0.6</text>
<line x1="294.15" y1="337.49" x2="296.75" y2="337.49" stroke="#111" stroke-width="1"/>
<text x="293.55" y="340.49" font-size="9.1" text-anchor="end" fill="#111">0.9</text>
<line x1="294.15" y1="316.05" x2="296.75" y2="316.05" stroke="#111" stroke-width="1"/>
<text x="293.55" y="319.05" font-size="9.1" text-anchor="end" fill="#111">1.2</text>
<text x="275.5" y="357" font-size="9.5" text-anchor="middle" fill="#111" transform="rotate(-90 275.5 357)">CCNA2/GAPDH</text>
<line x1="302.5" y1="330.34" x2="302.5" y2="323.55" stroke="#111" stroke-width="1"/>
<line x1="300.8" y1="323.55" x2="304.2" y2="323.55" stroke="#111" stroke-width="1"/>
<rect x="299.5" y="330.84" width="6" height="70.96" fill="#fff" stroke="#111" stroke-width="1"/>
<line x1="302.5" y1="401.8" x2="302.5" y2="403.8" stroke="#111" stroke-width="1"/>
<text x="306.1" y="410.6" font-size="10" text-anchor="start" fill="#111" textLength="5.4" lengthAdjust="spacingAndGlyphs" transform="rotate(-90 306.1 410.6)">0</text>
<line x1="319.5" y1="328.2" x2="319.5" y2="324.98" stroke="#111" stroke-width="1"/>
<line x1="317.8" y1="324.98" x2="321.2" y2="324.98" stroke="#111" stroke-width="1"/>
<rect x="316.2" y="328.2" width="6.6" height="73.6" fill="#050505" stroke="none" stroke-width="1"/>
<line x1="319.5" y1="401.8" x2="319.5" y2="403.8" stroke="#111" stroke-width="1"/>
<text x="323.1" y="410.6" font-size="10" text-anchor="start" fill="#111" textLength="5.4" lengthAdjust="spacingAndGlyphs" transform="rotate(-90 323.1 410.6)">2</text>
<line x1="328.25" y1="347.49" x2="328.25" y2="343.56" stroke="#111" stroke-width="1"/>
<line x1="326.55" y1="343.56" x2="329.95" y2="343.56" stroke="#111" stroke-width="1"/>
<rect x="324.95" y="347.49" width="6.6" height="54.31" fill="#050505" stroke="none" stroke-width="1"/>
<line x1="328.25" y1="401.8" x2="328.25" y2="403.8" stroke="#111" stroke-width="1"/>
<text x="331.85" y="416" font-size="10" text-anchor="start" fill="#111" textLength="10.8" lengthAdjust="spacingAndGlyphs" transform="rotate(-90 331.85 416)">20</text>
<text x="328.25" y="343.15" font-size="7.6" text-anchor="middle" fill="#000" style="stroke:#000;stroke-width:0.55px">*</text>
<line x1="345.75" y1="331.77" x2="345.75" y2="329.63" stroke="#111" stroke-width="1"/>
<line x1="344.05" y1="329.63" x2="347.45" y2="329.63" stroke="#111" stroke-width="1"/>
<rect x="342.45" y="331.77" width="6.6" height="70.03" fill="#050505" stroke="none" stroke-width="1"/>
<line x1="345.75" y1="401.8" x2="345.75" y2="403.8" stroke="#111" stroke-width="1"/>
<text x="349.35" y="410.6" font-size="10" text-anchor="start" fill="#111" textLength="5.4" lengthAdjust="spacingAndGlyphs" transform="rotate(-90 349.35 410.6)">2</text>
<line x1="354.5" y1="362.5" x2="354.5" y2="358.21" stroke="#111" stroke-width="1"/>
<line x1="352.8" y1="358.21" x2="356.2" y2="358.21" stroke="#111" stroke-width="1"/>
<rect x="351.2" y="362.5" width="6.6" height="39.3" fill="#050505" stroke="none" stroke-width="1"/>
<line x1="354.5" y1="401.8" x2="354.5" y2="403.8" stroke="#111" stroke-width="1"/>
<text x="358.1" y="416" font-size="10" text-anchor="start" fill="#111" textLength="10.8" lengthAdjust="spacingAndGlyphs" transform="rotate(-90 358.1 416)">20</text>
<text x="355.25" y="359.15" font-size="7.6" text-anchor="middle" fill="#000" style="stroke:#000;stroke-width:0.55px" letter-spacing="1.5">**</text>
<line x1="371.75" y1="320.34" x2="371.75" y2="317.83" stroke="#111" stroke-width="1"/>
<line x1="370.05" y1="317.83" x2="373.45" y2="317.83" stroke="#111" stroke-width="1"/>
<rect x="368.45" y="320.34" width="6.6" height="81.46" fill="#050505" stroke="none" stroke-width="1"/>
<line x1="371.75" y1="401.8" x2="371.75" y2="403.8" stroke="#111" stroke-width="1"/>
<text x="375.35" y="410.6" font-size="10" text-anchor="start" fill="#111" textLength="5.4" lengthAdjust="spacingAndGlyphs" transform="rotate(-90 375.35 410.6)">2</text>
<line x1="380.5" y1="327.48" x2="380.5" y2="324.98" stroke="#111" stroke-width="1"/>
<line x1="378.8" y1="324.98" x2="382.2" y2="324.98" stroke="#111" stroke-width="1"/>
<rect x="377.2" y="327.48" width="6.6" height="74.32" fill="#050505" stroke="none" stroke-width="1"/>
<line x1="380.5" y1="401.8" x2="380.5" y2="403.8" stroke="#111" stroke-width="1"/>
<text x="384.1" y="416" font-size="10" text-anchor="start" fill="#111" textLength="10.8" lengthAdjust="spacingAndGlyphs" transform="rotate(-90 384.1 416)">20</text>
<line x1="314.7" y1="417.8" x2="333.05" y2="417.8" stroke="#111" stroke-width="1.1"/>
<text x="323.77" y="426.6" font-size="9" text-anchor="middle" fill="#111">(+)450</text>
<line x1="340.95" y1="417.8" x2="359.3" y2="417.8" stroke="#111" stroke-width="1.1"/>
<text x="352.02" y="426.6" font-size="9" text-anchor="middle" fill="#111">(-)450</text>
<line x1="366.95" y1="417.8" x2="385.3" y2="417.8" stroke="#111" stroke-width="1.1"/>
<text x="376.52" y="426.6" font-size="9" text-anchor="middle" fill="#111">Enz</text>
<line x1="422.5" y1="315.55" x2="422.5" y2="402.3" stroke="#111" stroke-width="1.1"/>
<line x1="422" y1="401.8" x2="511.25" y2="401.8" stroke="#111" stroke-width="1.1"/>
<line x1="419.9" y1="401.8" x2="422.5" y2="401.8" stroke="#111" stroke-width="1"/>
<text x="419.3" y="404.8" font-size="9.1" text-anchor="end" fill="#111">0.0</text>
<line x1="419.9" y1="380.36" x2="422.5" y2="380.36" stroke="#111" stroke-width="1"/>
<text x="419.3" y="383.36" font-size="9.1" text-anchor="end" fill="#111">0.3</text>
<line x1="419.9" y1="358.92" x2="422.5" y2="358.92" stroke="#111" stroke-width="1"/>
<text x="419.3" y="361.92" font-size="9.1" text-anchor="end" fill="#111">0.6</text>
<line x1="419.9" y1="337.49" x2="422.5" y2="337.49" stroke="#111" stroke-width="1"/>
<text x="419.3" y="340.49" font-size="9.1" text-anchor="end" fill="#111">0.9</text>
<line x1="419.9" y1="316.05" x2="422.5" y2="316.05" stroke="#111" stroke-width="1"/>
<text x="419.3" y="319.05" font-size="9.1" text-anchor="end" fill="#111">1.2</text>
<text x="399.5" y="357" font-size="9.5" text-anchor="middle" fill="#111" transform="rotate(-90 399.5 357)">KIF15/GAPDH</text>
<line x1="428" y1="330.34" x2="428" y2="326.05" stroke="#111" stroke-width="1"/>
<line x1="426.3" y1="326.05" x2="429.7" y2="326.05" stroke="#111" stroke-width="1"/>
<rect x="424.5" y="330.84" width="6" height="70.96" fill="#fff" stroke="#111" stroke-width="1"/>
<line x1="428" y1="401.8" x2="428" y2="403.8" stroke="#111" stroke-width="1"/>
<text x="431.6" y="410.6" font-size="10" text-anchor="start" fill="#111" textLength="5.4" lengthAdjust="spacingAndGlyphs" transform="rotate(-90 431.6 410.6)">0</text>
<line x1="445" y1="331.77" x2="445" y2="329.27" stroke="#111" stroke-width="1"/>
<line x1="443.3" y1="329.27" x2="446.7" y2="329.27" stroke="#111" stroke-width="1"/>
<rect x="441.7" y="331.77" width="6.6" height="70.03" fill="#050505" stroke="none" stroke-width="1"/>
<line x1="445" y1="401.8" x2="445" y2="403.8" stroke="#111" stroke-width="1"/>
<text x="448.6" y="410.6" font-size="10" text-anchor="start" fill="#111" textLength="5.4" lengthAdjust="spacingAndGlyphs" transform="rotate(-90 448.6 410.6)">2</text>
<line x1="453.75" y1="344.63" x2="453.75" y2="343.77" stroke="#111" stroke-width="1"/>
<line x1="452.05" y1="343.77" x2="455.45" y2="343.77" stroke="#111" stroke-width="1"/>
<rect x="450.45" y="344.63" width="6.6" height="57.17" fill="#050505" stroke="none" stroke-width="1"/>
<line x1="453.75" y1="401.8" x2="453.75" y2="403.8" stroke="#111" stroke-width="1"/>
<text x="457.35" y="416" font-size="10" text-anchor="start" fill="#111" textLength="10.8" lengthAdjust="spacingAndGlyphs" transform="rotate(-90 457.35 416)">20</text>
<text x="453.75" y="344.15" font-size="7.6" text-anchor="middle" fill="#000" style="stroke:#000;stroke-width:0.55px">*</text>
<line x1="471.25" y1="334.63" x2="471.25" y2="331.77" stroke="#111" stroke-width="1"/>
<line x1="469.55" y1="331.77" x2="472.95" y2="331.77" stroke="#111" stroke-width="1"/>
<rect x="467.95" y="334.63" width="6.6" height="67.17" fill="#050505" stroke="none" stroke-width="1"/>
<line x1="471.25" y1="401.8" x2="471.25" y2="403.8" stroke="#111" stroke-width="1"/>
<text x="474.85" y="410.6" font-size="10" text-anchor="start" fill="#111" textLength="5.4" lengthAdjust="spacingAndGlyphs" transform="rotate(-90 474.85 410.6)">2</text>
<line x1="480" y1="356.78" x2="480" y2="354.64" stroke="#111" stroke-width="1"/>
<line x1="478.3" y1="354.64" x2="481.7" y2="354.64" stroke="#111" stroke-width="1"/>
<rect x="476.7" y="356.78" width="6.6" height="45.02" fill="#050505" stroke="none" stroke-width="1"/>
<line x1="480" y1="401.8" x2="480" y2="403.8" stroke="#111" stroke-width="1"/>
<text x="483.6" y="416" font-size="10" text-anchor="start" fill="#111" textLength="10.8" lengthAdjust="spacingAndGlyphs" transform="rotate(-90 483.6 416)">20</text>
<text x="480.75" y="355.65" font-size="7.6" text-anchor="middle" fill="#000" style="stroke:#000;stroke-width:0.55px" letter-spacing="1.5">**</text>
<line x1="497" y1="331.05" x2="497" y2="330.2" stroke="#111" stroke-width="1"/>
<line x1="495.3" y1="330.2" x2="498.7" y2="330.2" stroke="#111" stroke-width="1"/>
<rect x="493.7" y="331.05" width="6.6" height="70.75" fill="#050505" stroke="none" stroke-width="1"/>
<line x1="497" y1="401.8" x2="497" y2="403.8" stroke="#111" stroke-width="1"/>
<text x="500.6" y="410.6" font-size="10" text-anchor="start" fill="#111" textLength="5.4" lengthAdjust="spacingAndGlyphs" transform="rotate(-90 500.6 410.6)">2</text>
<line x1="505.75" y1="332.48" x2="505.75" y2="331.63" stroke="#111" stroke-width="1"/>
<line x1="504.05" y1="331.63" x2="507.45" y2="331.63" stroke="#111" stroke-width="1"/>
<rect x="502.45" y="332.48" width="6.6" height="69.32" fill="#050505" stroke="none" stroke-width="1"/>
<line x1="505.75" y1="401.8" x2="505.75" y2="403.8" stroke="#111" stroke-width="1"/>
<text x="509.35" y="416" font-size="10" text-anchor="start" fill="#111" textLength="10.8" lengthAdjust="spacingAndGlyphs" transform="rotate(-90 509.35 416)">20</text>
<line x1="440.2" y1="417.8" x2="458.55" y2="417.8" stroke="#111" stroke-width="1.1"/>
<text x="449.27" y="426.6" font-size="9" text-anchor="middle" fill="#111">(+)450</text>
<line x1="466.45" y1="417.8" x2="484.8" y2="417.8" stroke="#111" stroke-width="1.1"/>
<text x="477.52" y="426.6" font-size="9" text-anchor="middle" fill="#111">(-)450</text>
<line x1="492.2" y1="417.8" x2="510.55" y2="417.8" stroke="#111" stroke-width="1.1"/>
<text x="501.77" y="426.6" font-size="9" text-anchor="middle" fill="#111">Enz</text>
<text x="0.3" y="451.8" font-size="12" text-anchor="start" fill="#000" font-weight="bold">F</text>
<text x="225.4" y="453" font-size="10.2" text-anchor="middle" fill="#111">22Rv1</text>
<text x="103.3" y="467.4" font-size="10.2" text-anchor="middle" fill="#111">(+)450<tspan dx="1.2">(μmol/L)</tspan></text>
<line x1="44.5" y1="471.2" x2="161" y2="471.2" stroke="#111" stroke-width="1.25"/>
<text x="52.75" y="485.2" font-size="10.5" text-anchor="middle" fill="#111">-</text>
<text x="73.5" y="485.2" font-size="10.5" text-anchor="middle" fill="#111">0.2</text>
<text x="94.1" y="485.2" font-size="10.5" text-anchor="middle" fill="#111">0.8</text>
<text x="111" y="485.2" font-size="10.5" text-anchor="middle" fill="#111">3.2</text>
<text x="131.4" y="485.2" font-size="10.5" text-anchor="middle" fill="#111">12.8</text>
<text x="152" y="485.2" font-size="10.5" text-anchor="middle" fill="#111">25</text>
<rect x="40.5" y="490.5" width="120.5" height="21.8" fill="#f4f4f4" stroke="none" stroke-width="1"/>
<g clip-path="url(#cp0a)">
<rect x="43.44" y="499" width="15" height="5" rx="2.2" fill="#000" opacity="0.22" filter="url(#b2)"/>
<rect x="43.44" y="494.85" width="15" height="2.3" rx="1.15" fill="#000" opacity="0.85" filter="url(#b1)"/>
<rect x="42.54" y="503.4" width="16.8" height="4.6" rx="2.2" fill="#000" opacity="0.95" filter="url(#b1)"/>
<rect x="63.53" y="499" width="15" height="5" rx="2.2" fill="#000" opacity="0.22" filter="url(#b2)"/>
<rect x="63.53" y="494.85" width="15" height="2.3" rx="1.15" fill="#000" opacity="0.9" filter="url(#b1)"/>
<rect x="62.63" y="503.4" width="16.8" height="4.6" rx="2.2" fill="#000" opacity="0.95" filter="url(#b1)"/>
<rect x="83.61" y="499" width="15" height="5" rx="2.2" fill="#000" opacity="0.22" filter="url(#b2)"/>
<rect x="83.61" y="494.85" width="15" height="2.3" rx="1.15" fill="#000" opacity="0.85" filter="url(#b1)"/>
<rect x="82.71" y="503.4" width="16.8" height="4.6" rx="2.2" fill="#000" opacity="0.95" filter="url(#b1)"/>
<rect x="103.69" y="499" width="15" height="5" rx="2.2" fill="#000" opacity="0.22" filter="url(#b2)"/>
<rect x="103.69" y="494.85" width="15" height="2.3" rx="1.15" fill="#000" opacity="0.85" filter="url(#b1)"/>
<rect x="102.79" y="503.4" width="16.8" height="4.6" rx="2.2" fill="#000" opacity="0.95" filter="url(#b1)"/>
<rect x="123.78" y="499" width="15" height="5" rx="2.2" fill="#000" opacity="0.22" filter="url(#b2)"/>
<rect x="123.78" y="494.85" width="15" height="2.3" rx="1.15" fill="#000" opacity="0.9" filter="url(#b1)"/>
<rect x="122.88" y="503.4" width="16.8" height="4.6" rx="2.2" fill="#000" opacity="0.95" filter="url(#b1)"/>
<rect x="143.86" y="499" width="15" height="5" rx="2.2" fill="#000" opacity="0.22" filter="url(#b2)"/>
<rect x="143.86" y="494.85" width="15" height="2.3" rx="1.15" fill="#000" opacity="0.7" filter="url(#b1)"/>
<rect x="142.96" y="503.4" width="16.8" height="4.6" rx="2.2" fill="#000" opacity="0.95" filter="url(#b1)"/>
</g>
<rect x="40.5" y="490.5" width="120.5" height="21.8" fill="none" stroke="#333" stroke-width="1"/>
<text x="50.64" y="519.1" font-size="7.1" text-anchor="middle" fill="#222">1.00</text>
<text x="70.73" y="519.1" font-size="7.1" text-anchor="middle" fill="#222">1.01</text>
<text x="90.81" y="519.1" font-size="7.1" text-anchor="middle" fill="#222">1.14</text>
<text x="110.89" y="519.1" font-size="7.1" text-anchor="middle" fill="#222">0.89</text>
<text x="130.97" y="519.1" font-size="7.1" text-anchor="middle" fill="#222">0.23</text>
<text x="151.06" y="519.1" font-size="7.1" text-anchor="middle" fill="#222">0.04</text>
<rect x="40.5" y="520.5" width="120.5" height="13" fill="#ededed" stroke="none" stroke-width="1"/>
<g clip-path="url(#cp0b)">
<rect x="42.19" y="523.9" width="17.5" height="4.6" rx="2.2" fill="#000" opacity="0.9" filter="url(#b1)"/>
<rect x="62.28" y="523.9" width="17.5" height="4.6" rx="2.2" fill="#000" opacity="0.95" filter="url(#b1)"/>
<rect x="82.36" y="523.9" width="17.5" height="4.6" rx="2.2" fill="#000" opacity="1" filter="url(#b1)"/>
<rect x="102.44" y="523.9" width="17.5" height="4.6" rx="2.2" fill="#000" opacity="0.92" filter="url(#b1)"/>
<rect x="125.28" y="524.9" width="12" height="2.6" rx="1.3" fill="#000" opacity="0.35" filter="url(#b1)"/>
<rect x="145.36" y="524.9" width="12" height="2.6" rx="1.3" fill="#000" opacity="0.06" filter="url(#b1)"/>
</g>
<rect x="40.5" y="520.5" width="120.5" height="13" fill="none" stroke="#333" stroke-width="1"/>
<rect x="40.5" y="539" width="120.5" height="13.3" fill="#f6f6f6" stroke="none" stroke-width="1"/>
<g clip-path="url(#cp0c)">
<rect x="41.34" y="544" width="19.2" height="4" rx="2" fill="#000" opacity="1" filter="url(#b1)"/>
<rect x="61.43" y="544.4" width="19.2" height="4" rx="2" fill="#000" opacity="1" filter="url(#b1)"/>
<rect x="81.51" y="544" width="19.2" height="4" rx="2" fill="#000" opacity="1" filter="url(#b1)"/>
<rect x="101.59" y="544.4" width="19.2" height="4" rx="2" fill="#000" opacity="1" filter="url(#b1)"/>
<rect x="121.68" y="544" width="19.2" height="4" rx="2" fill="#000" opacity="1" filter="url(#b1)"/>
<rect x="141.76" y="544.4" width="19.2" height="4" rx="2" fill="#000" opacity="1" filter="url(#b1)"/>
</g>
<rect x="40.5" y="539" width="120.5" height="13.3" fill="none" stroke="#333" stroke-width="1"/>
<text x="227.5" y="467.4" font-size="10.2" text-anchor="middle" fill="#111">(-)450<tspan dx="1.2">(μmol/L)</tspan></text>
<line x1="168.75" y1="471.2" x2="285" y2="471.2" stroke="#111" stroke-width="1.25"/>
<text x="176.75" y="485.2" font-size="10.5" text-anchor="middle" fill="#111">-</text>
<text x="194.4" y="485.2" font-size="10.5" text-anchor="middle" fill="#111">0.2</text>
<text x="215" y="485.2" font-size="10.5" text-anchor="middle" fill="#111">0.8</text>
<text x="234.1" y="485.2" font-size="10.5" text-anchor="middle" fill="#111">3.2</text>
<text x="257.1" y="485.2" font-size="10.5" text-anchor="middle" fill="#111">12.8</text>
<text x="275" y="485.2" font-size="10.5" text-anchor="middle" fill="#111">25</text>
<rect x="166.5" y="490.5" width="118.5" height="21.8" fill="#f2f2f2" stroke="none" stroke-width="1"/>
<g clip-path="url(#cp1a)">
<rect x="168.88" y="499" width="15" height="5" rx="2.2" fill="#000" opacity="0.22" filter="url(#b2)"/>
<rect x="168.88" y="494.85" width="15" height="2.3" rx="1.15" fill="#000" opacity="0.85" filter="url(#b1)"/>
<rect x="167.97" y="503.4" width="16.8" height="4.6" rx="2.2" fill="#000" opacity="0.95" filter="url(#b1)"/>
<rect x="188.62" y="499" width="15" height="5" rx="2.2" fill="#000" opacity="0.22" filter="url(#b2)"/>
<rect x="188.62" y="494.85" width="15" height="2.3" rx="1.15" fill="#000" opacity="0.85" filter="url(#b1)"/>
<rect x="187.72" y="503.4" width="16.8" height="4.6" rx="2.2" fill="#000" opacity="0.95" filter="url(#b1)"/>
<rect x="208.38" y="499" width="15" height="5" rx="2.2" fill="#000" opacity="0.22" filter="url(#b2)"/>
<rect x="208.38" y="494.85" width="15" height="2.3" rx="1.15" fill="#000" opacity="0.85" filter="url(#b1)"/>
<rect x="207.47" y="503.4" width="16.8" height="4.6" rx="2.2" fill="#000" opacity="0.95" filter="url(#b1)"/>
<rect x="228.12" y="499" width="15" height="5" rx="2.2" fill="#000" opacity="0.22" filter="url(#b2)"/>
<rect x="228.12" y="494.85" width="15" height="2.3" rx="1.15" fill="#000" opacity="0.85" filter="url(#b1)"/>
<rect x="227.22" y="503.4" width="16.8" height="4.6" rx="2.2" fill="#000" opacity="0.95" filter="url(#b1)"/>
<rect x="247.88" y="499" width="15" height="5" rx="2.2" fill="#000" opacity="0.22" filter="url(#b2)"/>
<rect x="247.88" y="494.85" width="15" height="2.3" rx="1.15" fill="#000" opacity="0.8" filter="url(#b1)"/>
<rect x="246.97" y="503.4" width="16.8" height="4.6" rx="2.2" fill="#000" opacity="0.9" filter="url(#b1)"/>
<rect x="267.62" y="499" width="15" height="5" rx="2.2" fill="#000" opacity="0.22" filter="url(#b2)"/>
<rect x="267.62" y="494.85" width="15" height="2.3" rx="1.15" fill="#000" opacity="0.6" filter="url(#b1)"/>
<rect x="266.73" y="503.4" width="16.8" height="4.6" rx="2.2" fill="#000" opacity="0.75" filter="url(#b1)"/>
</g>
<rect x="166.5" y="490.5" width="118.5" height="21.8" fill="none" stroke="#333" stroke-width="1"/>
<text x="176.07" y="519.1" font-size="7.1" text-anchor="middle" fill="#222">1.00</text>
<text x="195.82" y="519.1" font-size="7.1" text-anchor="middle" fill="#222">0.89</text>
<text x="215.57" y="519.1" font-size="7.1" text-anchor="middle" fill="#222">0.75</text>
<text x="235.32" y="519.1" font-size="7.1" text-anchor="middle" fill="#222">0.61</text>
<text x="255.07" y="519.1" font-size="7.1" text-anchor="middle" fill="#222">0.22</text>
<text x="274.82" y="519.1" font-size="7.1" text-anchor="middle" fill="#222">0.04</text>
<rect x="166.5" y="520.5" width="118.5" height="13" fill="#ebebeb" stroke="none" stroke-width="1"/>
<g clip-path="url(#cp1b)">
<rect x="168.62" y="524.7" width="15.5" height="4.6" rx="2.2" fill="#000" opacity="0.9" filter="url(#b1)"/>
<rect x="188.38" y="524.7" width="15.5" height="4.6" rx="2.2" fill="#000" opacity="0.85" filter="url(#b1)"/>
<rect x="208.12" y="524.7" width="15.5" height="4.6" rx="2.2" fill="#000" opacity="0.85" filter="url(#b1)"/>
<rect x="227.88" y="524" width="15.5" height="3.2" rx="1.6" fill="#000" opacity="0.8" filter="url(#b1)"/>
<rect x="249.38" y="524.9" width="12" height="2.6" rx="1.3" fill="#000" opacity="0.12" filter="url(#b1)"/>
<rect x="269.12" y="524.9" width="12" height="2.6" rx="1.3" fill="#000" opacity="0.03" filter="url(#b1)"/>
</g>
<rect x="166.5" y="520.5" width="118.5" height="13" fill="none" stroke="#333" stroke-width="1"/>
<rect x="166.5" y="539" width="118.5" height="13.3" fill="#f6f6f6" stroke="none" stroke-width="1"/>
<g clip-path="url(#cp1c)">
<rect x="166.78" y="544" width="19.2" height="4" rx="2" fill="#000" opacity="1" filter="url(#b1)"/>
<rect x="186.53" y="544.4" width="19.2" height="4" rx="2" fill="#000" opacity="1" filter="url(#b1)"/>
<rect x="206.28" y="544" width="19.2" height="4" rx="2" fill="#000" opacity="1" filter="url(#b1)"/>
<rect x="226.03" y="544.4" width="19.2" height="4" rx="2" fill="#000" opacity="1" filter="url(#b1)"/>
<rect x="245.78" y="544" width="19.2" height="4" rx="2" fill="#000" opacity="1" filter="url(#b1)"/>
<rect x="265.52" y="544.4" width="19.2" height="4" rx="2" fill="#000" opacity="1" filter="url(#b1)"/>
</g>
<rect x="166.5" y="539" width="118.5" height="13.3" fill="none" stroke="#333" stroke-width="1"/>
<text x="356.1" y="467.4" font-size="10.2" text-anchor="middle" fill="#111">Enzalutamide</text>
<line x1="292.75" y1="471.2" x2="407.75" y2="471.2" stroke="#111" stroke-width="1.25"/>
<text x="300.75" y="485.2" font-size="10.5" text-anchor="middle" fill="#111">-</text>
<text x="321.1" y="485.2" font-size="10.5" text-anchor="middle" fill="#111">0.2</text>
<text x="341.1" y="485.2" font-size="10.5" text-anchor="middle" fill="#111">0.8</text>
<text x="360.9" y="485.2" font-size="10.5" text-anchor="middle" fill="#111">3.2</text>
<text x="380" y="485.2" font-size="10.5" text-anchor="middle" fill="#111">12.8</text>
<text x="399" y="485.2" font-size="10.5" text-anchor="middle" fill="#111">25</text>
<rect x="290.5" y="490.5" width="119.5" height="21.8" fill="#e4e4e4" stroke="none" stroke-width="1"/>
<g clip-path="url(#cp2a)">
<rect x="292.71" y="497" width="15.5" height="8" rx="2.2" fill="#000" opacity="0.28" filter="url(#b2)"/>
<rect x="293.21" y="498.7" width="14.5" height="1.2" rx="0.6" fill="#000" opacity="0.3" filter="url(#b1)"/>
<rect x="293.21" y="501.2" width="14.5" height="1.2" rx="0.6" fill="#000" opacity="0.25" filter="url(#b1)"/>
<rect x="292.96" y="494.3" width="15" height="2.6" rx="1.3" fill="#000" opacity="0.95" filter="url(#b1)"/>
<rect x="292.21" y="503.1" width="16.5" height="6.2" rx="2.2" fill="#000" opacity="1" filter="url(#b1)"/>
<rect x="312.62" y="497" width="15.5" height="8" rx="2.2" fill="#000" opacity="0.28" filter="url(#b2)"/>
<rect x="313.12" y="498.7" width="14.5" height="1.2" rx="0.6" fill="#000" opacity="0.3" filter="url(#b1)"/>
<rect x="313.12" y="501.2" width="14.5" height="1.2" rx="0.6" fill="#000" opacity="0.25" filter="url(#b1)"/>
<rect x="312.88" y="494.3" width="15" height="2.6" rx="1.3" fill="#000" opacity="0.95" filter="url(#b1)"/>
<rect x="312.12" y="503.1" width="16.5" height="6.2" rx="2.2" fill="#000" opacity="1" filter="url(#b1)"/>
<rect x="332.54" y="497" width="15.5" height="8" rx="2.2" fill="#000" opacity="0.28" filter="url(#b2)"/>
<rect x="333.04" y="498.7" width="14.5" height="1.2" rx="0.6" fill="#000" opacity="0.3" filter="url(#b1)"/>
<rect x="333.04" y="501.2" width="14.5" height="1.2" rx="0.6" fill="#000" opacity="0.25" filter="url(#b1)"/>
<rect x="332.79" y="494.3" width="15" height="2.6" rx="1.3" fill="#000" opacity="0.95" filter="url(#b1)"/>
<rect x="332.04" y="503.1" width="16.5" height="6.2" rx="2.2" fill="#000" opacity="1" filter="url(#b1)"/>
<rect x="352.46" y="497" width="15.5" height="8" rx="2.2" fill="#000" opacity="0.28" filter="url(#b2)"/>
<rect x="352.96" y="498.7" width="14.5" height="1.2" rx="0.6" fill="#000" opacity="0.3" filter="url(#b1)"/>
<rect x="352.96" y="501.2" width="14.5" height="1.2" rx="0.6" fill="#000" opacity="0.25" filter="url(#b1)"/>
<rect x="352.71" y="494.3" width="15" height="2.6" rx="1.3" fill="#000" opacity="0.95" filter="url(#b1)"/>
<rect x="351.96" y="503.1" width="16.5" height="6.2" rx="2.2" fill="#000" opacity="1" filter="url(#b1)"/>
<rect x="372.38" y="497" width="15.5" height="8" rx="2.2" fill="#000" opacity="0.28" filter="url(#b2)"/>
<rect x="372.88" y="498.7" width="14.5" height="1.2" rx="0.6" fill="#000" opacity="0.3" filter="url(#b1)"/>
<rect x="372.88" y="501.2" width="14.5" height="1.2" rx="0.6" fill="#000" opacity="0.25" filter="url(#b1)"/>
<rect x="372.62" y="494.3" width="15" height="2.6" rx="1.3" fill="#000" opacity="0.95" filter="url(#b1)"/>
<rect x="371.88" y="503.1" width="16.5" height="6.2" rx="2.2" fill="#000" opacity="1" filter="url(#b1)"/>
<rect x="392.29" y="497" width="15.5" height="8" rx="2.2" fill="#000" opacity="0.28" filter="url(#b2)"/>
<rect x="392.79" y="498.7" width="14.5" height="1.2" rx="0.6" fill="#000" opacity="0.3" filter="url(#b1)"/>
<rect x="392.79" y="501.2" width="14.5" height="1.2" rx="0.6" fill="#000" opacity="0.25" filter="url(#b1)"/>
<rect x="392.54" y="494.3" width="15" height="2.6" rx="1.3" fill="#000" opacity="0.95" filter="url(#b1)"/>
<rect x="391.79" y="503.1" width="16.5" height="6.2" rx="2.2" fill="#000" opacity="1" filter="url(#b1)"/>
</g>
<rect x="290.5" y="490.5" width="119.5" height="21.8" fill="none" stroke="#333" stroke-width="1"/>
<text x="300.16" y="519.1" font-size="7.1" text-anchor="middle" fill="#222">1.00</text>
<text x="320.07" y="519.1" font-size="7.1" text-anchor="middle" fill="#222">0.87</text>
<text x="339.99" y="519.1" font-size="7.1" text-anchor="middle" fill="#222">0.79</text>
<text x="359.91" y="519.1" font-size="7.1" text-anchor="middle" fill="#222">0.90</text>
<text x="379.82" y="519.1" font-size="7.1" text-anchor="middle" fill="#222">1.08</text>
<text x="399.74" y="519.1" font-size="7.1" text-anchor="middle" fill="#222">0.85</text>
<rect x="290.5" y="520.5" width="119.5" height="13" fill="#a4a4a4" stroke="none" stroke-width="1"/>
<g clip-path="url(#cp2b)">
<rect x="292.96" y="525.2" width="15" height="3.2" rx="1.6" fill="#111" opacity="0.75" filter="url(#b1)"/>
<rect x="312.88" y="525.2" width="15" height="3.2" rx="1.6" fill="#111" opacity="0.55" filter="url(#b1)"/>
<rect x="332.79" y="525.2" width="15" height="3.2" rx="1.6" fill="#111" opacity="0.5" filter="url(#b1)"/>
<rect x="352.71" y="525.2" width="15" height="3.2" rx="1.6" fill="#111" opacity="0.6" filter="url(#b1)"/>
<rect x="372.62" y="525.2" width="15" height="3.2" rx="1.6" fill="#111" opacity="0.7" filter="url(#b1)"/>
<rect x="392.54" y="525.2" width="15" height="3.2" rx="1.6" fill="#111" opacity="0.6" filter="url(#b1)"/>
</g>
<rect x="290.5" y="520.5" width="119.5" height="13" fill="none" stroke="#333" stroke-width="1"/>
<rect x="290.5" y="539" width="119.5" height="13.3" fill="#f6f6f6" stroke="none" stroke-width="1"/>
<g clip-path="url(#cp2c)">
<rect x="290.86" y="544.3" width="19.2" height="3.4" rx="1.7" fill="#000" opacity="1" filter="url(#b1)"/>
<rect x="310.77" y="544.7" width="19.2" height="3.4" rx="1.7" fill="#000" opacity="1" filter="url(#b1)"/>
<rect x="330.69" y="544.3" width="19.2" height="3.4" rx="1.7" fill="#000" opacity="1" filter="url(#b1)"/>
<rect x="350.61" y="544.7" width="19.2" height="3.4" rx="1.7" fill="#000" opacity="1" filter="url(#b1)"/>
<rect x="370.52" y="544.3" width="19.2" height="3.4" rx="1.7" fill="#000" opacity="1" filter="url(#b1)"/>
<rect x="390.44" y="544.7" width="19.2" height="3.4" rx="1.7" fill="#000" opacity="1" filter="url(#b1)"/>
</g>
<rect x="290.5" y="539" width="119.5" height="13.3" fill="none" stroke="#333" stroke-width="1"/>
<circle cx="259.5" cy="523.6" r="0.9" fill="#111"/>
<text x="417.5" y="498.8" font-size="10" text-anchor="start" fill="#111">AR (110 kDa)</text>
<text x="417.5" y="511.3" font-size="10" text-anchor="start" fill="#111">ARvs (75 kDa)</text>
<text x="417.5" y="529.6" font-size="10" text-anchor="start" fill="#111">UBE2C (20 kDa)</text>
<text x="417.5" y="547.6" font-size="10" text-anchor="start" fill="#111">GAPDH (37 kDa)</text>
</svg>
</body></html>
